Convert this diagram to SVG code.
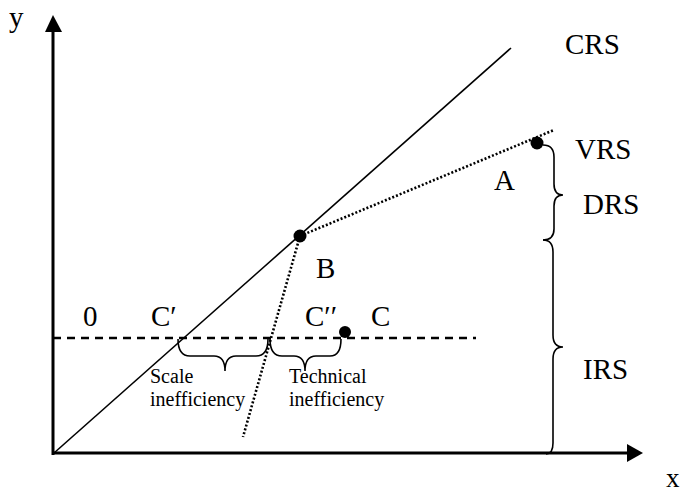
<svg xmlns="http://www.w3.org/2000/svg" width="686" height="493" viewBox="0 0 686 493">
<style>
text{font-family:"Liberation Serif","Times New Roman","DejaVu Serif",serif;fill:#000}
.big{font-size:29px}
.small{font-size:20px}
.axis{stroke:#000;stroke-width:3;fill:none}
.solid{stroke:#000;stroke-width:1.6;fill:none}
.dot{stroke:#000;stroke-width:2.6;fill:none;stroke-dasharray:2 2}
.dash{stroke:#000;stroke-width:2.6;fill:none;stroke-dasharray:8 6}
.brace{stroke:#000;stroke-width:1.6;fill:none}
</style>
<rect width="686" height="493" fill="#fff"/>
<g id="axes">
<line class="axis" x1="53" y1="455" x2="53" y2="30"/>
<polygon points="53,15 45,32 62,32" fill="#000"/>
<line class="axis" x1="52" y1="453" x2="630" y2="453"/>
<polygon points="643,453 627,444 627,462" fill="#000"/>
<text class="big" x="9" y="27">y</text>
<text class="big" x="666" y="487" style="font-size:27px">x</text>
</g>
<g id="connectors">
<line class="solid" x1="54" y1="453" x2="511" y2="48"/>
<line class="dot" x1="300" y1="236" x2="554" y2="130"/>
<line class="dot" x1="300" y1="236" x2="243" y2="437"/>
<line class="dash" x1="53" y1="338" x2="476" y2="338"/>
<path class="brace" d="M178,339 Q178,356 190,356 L214,356 Q225,356 225,371 Q225,356 236,356 L256,356 Q268,356 268,339"/>
<path class="brace" d="M270,339 Q270,356 282,356 L294,356 Q305,356 305,371 Q305,356 316,356 L330,356 Q341,356 341,339"/>
<path class="brace" d="M543,145 Q554,145 554,157 L554,184 Q554,195 563,195 Q554,195 554,206 L554,229 Q554,240 543,240"/>
<path class="brace" d="M543,240 Q553,240 553,252 L553,335 Q553,347 563,347 Q553,347 553,359 L553,443 Q553,454 546,454"/>
</g>
<g id="CRS"><text class="big" x="565" y="54">CRS</text></g>
<g id="VRS"><text class="big" x="575" y="159">VRS</text></g>
<g id="DRS"><text class="big" x="583" y="214">DRS</text></g>
<g id="IRS"><text class="big" x="583" y="379">IRS</text></g>
<g id="A"><circle cx="537" cy="143" r="6.5" fill="#000"/><text class="big" x="494" y="190">A</text></g>
<g id="B"><circle cx="300" cy="236" r="6.5" fill="#000"/><text class="big" x="316" y="278">B</text></g>
<g id="C"><circle cx="345" cy="332" r="6" fill="#000"/><text class="big" x="371" y="326">C</text></g>
<g id="C1"><text class="big" x="151" y="326">C′</text></g>
<g id="C2"><text class="big" x="305" y="326">C′′</text></g>
<g id="O"><text class="big" x="83" y="326">0</text></g>
<g id="scale"><text class="small" x="150" y="383">Scale</text><text class="small" x="150" y="406">inefficiency</text></g>
<g id="technical"><text class="small" x="289" y="383">Technical</text><text class="small" x="289" y="406">inefficiency</text></g>
</svg>
